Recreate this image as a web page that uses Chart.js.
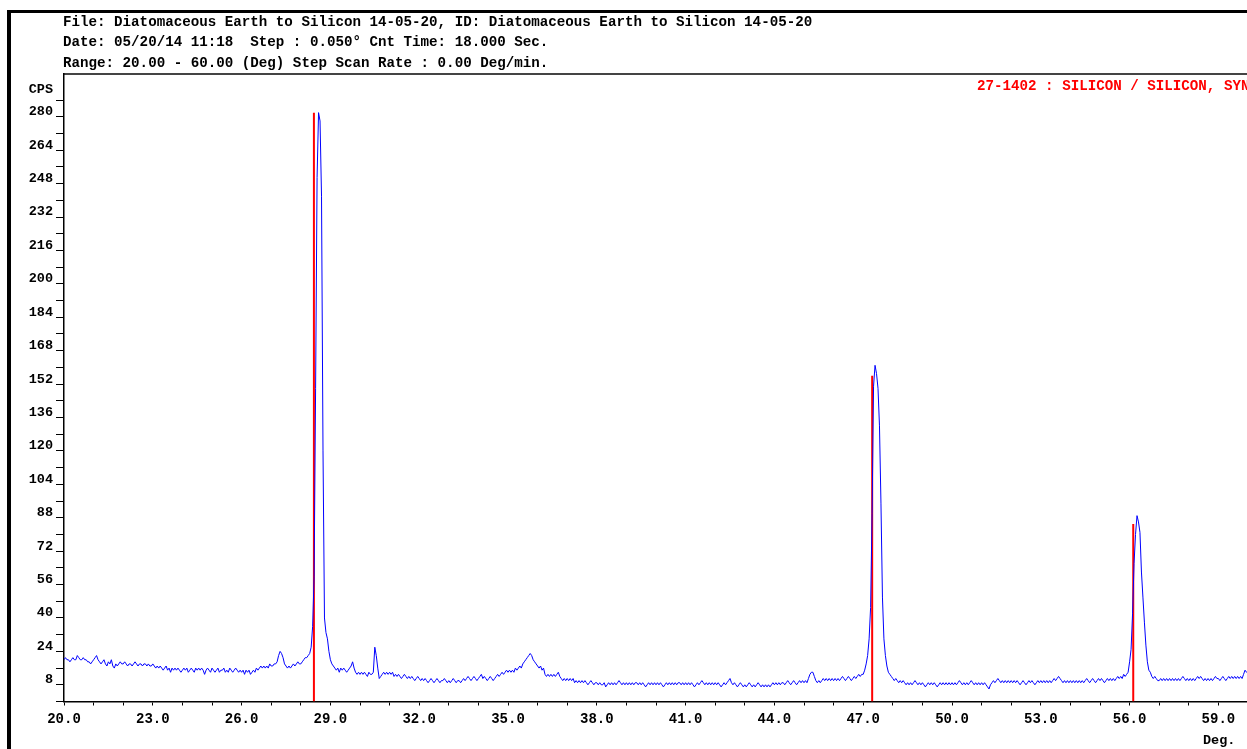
<!DOCTYPE html>
<html>
<head>
<meta charset="utf-8">
<script src="https://cdn.jsdelivr.net/npm/chart.js@4.4.0/dist/chart.umd.min.js"></script>
<style>
html, body { margin: 0; padding: 0; background: #fff; overflow: hidden; width: 1247px; height: 749px; }
#wrap { position: relative; width: 1247px; height: 749px; overflow: hidden; }
#grafico { position: absolute; left: 0; top: 0; }
.txt { position: absolute; font-family: "Liberation Mono", monospace; font-weight: bold; white-space: pre; color: #000; }
#cabecalho { left: 63px; top: 12px; font-size: 14.2px; line-height: 20.3px; }
#cps { left: 0; width: 53px; text-align: right; top: 82px; font-size: 13.5px; line-height: 16px; }
#deg { left: 1203px; top: 733px; font-size: 13.5px; line-height: 16px; }
#ref { left: 977px; top: 78px; font-size: 14.2px; line-height: 16px; color: #ff0000; }
.borda { position: absolute; background: #000; }
</style>
</head>
<body>
<div id="wrap">
  <canvas id="grafico" width="1254" height="749"></canvas>
  <div class="borda" style="left:7px;top:10px;width:4px;height:739px;"></div>
  <div class="borda" style="left:7px;top:10px;width:1243px;height:3px;"></div>
  <div id="cabecalho" class="txt">File: Diatomaceous Earth to Silicon 14-05-20, ID: Diatomaceous Earth to Silicon 14-05-20
Date: 05/20/14 11:18  Step : 0.050° Cnt Time: 18.000 Sec.
Range: 20.00 - 60.00 (Deg) Step Scan Rate : 0.00 Deg/min.</div>
  <div id="cps" class="txt">CPS</div>
  <div id="deg" class="txt">Deg.</div>
  <div id="ref" class="txt">27-1402 : SILICON / SILICON, SYN</div>
</div>
<script>
// ── Dados da varredura (passo 0.05°) ──
const passo = 0.05;

// 20.00 - 24.95
const cps20 = [
  20,21,20,20,19,20,21,20,20,22, 21,20,20,21,20,20,19,19,18,19,
  20,21,22,20,19,18,19,20,18,17, 19,18,20,17,16,18,17,18,19,18,
  18,19,18,17,18,18,17,18,19,18, 17,18,18,17,18,18,17,18,17,17,
  18,17,16,17,16,17,16,15,16,17, 15,16,14,16,15,16,15,16,15,14,
  15,16,15,16,14,15,16,15,14,16, 15,16,15,16,15,13,15,16,15,14
];
// 25.00 - 29.95
const cps25 = [
  16,15,14,15,16,14,15,15,16,14, 15,14,16,15,14,15,16,15,14,15,
  14,15,13,15,14,15,13,14,15,14, 16,15,16,17,16,17,16,17,16,18,
  17,17,18,18,19,22,24,23,21,18, 17,16,17,16,17,18,17,18,19,18,
  18,19,20,21,21,22,23,26,36,60, 150,251,282,278,242,120,40,33,30,24,
  20,18,17,16,15,16,14,16,15,16, 15,14,15,16,17,19,16,14,13,14
];
// 30.00 - 34.95
const cps30 = [
  13,14,13,14,13,12,14,13,13,14, 26,22,16,11,12,13,14,13,14,13,
  14,13,14,12,13,12,13,12,11,12, 13,12,11,12,11,12,11,10,11,12,
  11,10,11,10,11,10,9,10,11,10, 9,10,11,10,9,10,10,11,10,9,
  10,9,10,11,10,9,10,10,9,10, 11,10,11,12,11,10,11,12,11,10,
  11,12,13,11,12,11,10,11,12,11, 10,11,12,13,12,13,14,13,14,15
];
// 35.00 - 39.95
const cps35 = [
  14,15,14,15,14,16,15,16,17,16, 18,19,20,21,22,23,22,20,19,18,
  17,16,17,15,16,13,12,13,12,13, 12,13,12,13,14,12,11,10,11,10,
  11,10,11,10,11,9,10,9,10,9, 10,9,10,9,8,9,10,9,8,9,
  9,8,9,8,8,9,7,8,9,8, 9,8,9,8,9,10,9,8,9,8,
  9,8,9,8,9,8,9,9,8,9, 8,9,8,7,8,9,8,9,8,9
];
// 40.00 - 44.95
const cps40 = [
  8,9,8,9,8,7,8,9,8,9, 8,9,8,9,8,9,9,8,9,8,
  9,8,9,8,9,8,7,8,9,8, 9,10,9,8,9,8,9,8,9,8,
  9,8,9,8,7,8,9,8,9,10, 11,9,8,9,8,7,8,9,8,7,
  8,7,8,9,8,7,8,7,8,9, 8,7,8,7,8,7,8,7,8,9,
  8,9,8,9,8,9,9,8,9,10, 9,8,9,10,9,8,9,10,9,10
];
// 45.00 - 49.95
const cps45 = [
  9,10,9,11,13,14,14,12,10,9, 10,9,10,11,10,11,10,11,10,11,
  10,11,10,11,10,11,12,11,10,11, 12,11,10,11,12,11,12,13,12,13,
  13,15,18,22,30,45,90,151,161,157, 150,132,95,50,30,22,17,14,13,12,
  11,10,11,10,9,10,9,10,9,8, 9,8,9,8,9,10,9,8,9,8,
  9,8,7,8,9,8,9,8,9,8, 7,8,9,8,9,8,9,8,9,8
];
// 50.00 - 54.95
const cps50 = [
  9,8,9,8,9,10,9,8,9,8, 9,8,9,10,9,8,9,8,9,8,
  9,8,9,8,7,6,8,9,10,9, 10,11,10,9,10,9,10,9,10,9,
  10,9,10,9,10,9,8,9,10,9, 8,9,10,9,10,9,8,9,10,9,
  10,9,10,9,10,9,10,9,10,11, 10,11,12,11,10,9,10,9,10,9,
  10,9,10,9,10,9,10,9,10,9, 10,11,10,9,10,11,10,9,10,11
];
// 55.00 - 60.00
const cps55 = [
  10,11,10,9,10,11,10,11,10,11, 10,11,12,11,12,11,13,12,13,14,
  19,25,42,66,80,89,86,81,62,50, 38,27,19,15,14,12,11,12,11,10,
  10,11,10,11,10,11,10,11,10,11, 10,11,10,11,10,11,12,11,10,11,
  10,11,10,11,10,11,12,11,12,11, 10,11,10,11,10,11,10,11,12,11,
  11,10,11,12,11,10,11,12,11,12, 11,12,11,12,11,12,11,13,15,14,
  14
];

const blocos = [[20, cps20], [25, cps25], [30, cps30], [35, cps35], [40, cps40], [45, cps45], [50, cps50], [55, cps55]];

// ── Padrão de referência 27-1402 (Si) ──
const refPos = [28.443, 47.303, 56.123];
const refCps = [282, 156, 85];

// ── Rótulos dos eixos ──
const xRotulos = [20, 23, 26, 29, 32, 35, 38, 41, 44, 47, 50, 53, 56, 59];
const yRotulos = [8, 24, 40, 56, 72, 88, 104, 120, 136, 152, 168, 184, 200, 216, 232, 248, 264, 280];

const varredura = [];
blocos.forEach(([inicio, vals]) => {
    vals.forEach((v, i) => varredura.push({ x: +(inicio + i * passo).toFixed(2), y: v }));
});

const linhasRef = [];
refPos.forEach((p, i) => {
    linhasRef.push({ x: p, y: 0 }, { x: p, y: refCps[i] }, { x: p, y: null });
});

const fonteX = { family: '"Liberation Mono", monospace', weight: 'bold', size: 14 };
const fonteY = { family: '"Liberation Mono", monospace', weight: 'bold', size: 13.5 };

new Chart(document.getElementById("grafico"), {
    type: "line",
    data: {
        datasets: [
            { data: varredura, borderColor: "#0000ff", borderWidth: 1, pointRadius: 0, tension: 0, order: 0 },
            { data: linhasRef, borderColor: "#ff0000", borderWidth: 2, pointRadius: 0, spanGaps: false, order: 1 }
        ]
    },
    options: {
        responsive: false,
        animation: false,
        events: [],
        layout: { padding: 0 },
        plugins: { legend: { display: false }, tooltip: { enabled: false } },
        scales: {
            x: {
                type: "linear", position: "bottom", min: 20, max: 60,
                ticks: {
                    stepSize: 1, autoSkip: false, maxRotation: 0, padding: 6,
                    color: "#000", font: fonteX,
                    callback: v => xRotulos.includes(v) ? v.toFixed(1) : ""
                },
                grid: { drawOnChartArea: false, drawTicks: true, tickLength: 4, tickColor: "#000" },
                border: { display: true, color: "#000", width: 1.5 },
                afterFit: s => { s.height = 47.5; }
            },
            x2: {
                type: "linear", position: "top", min: 20, max: 60,
                ticks: { display: false },
                grid: { display: false },
                border: { display: true, color: "#444", width: 2 },
                afterFit: s => { s.height = 74; }
            },
            y: {
                min: 0, max: 300.5,
                ticks: {
                    stepSize: 8, autoSkip: false, padding: 3, labelOffset: -5,
                    color: "#000", font: fonteY,
                    callback: v => yRotulos.includes(v) ? String(v) : ""
                },
                grid: { drawOnChartArea: false, drawTicks: true, tickLength: 8, tickColor: "#000" },
                border: { display: true, color: "#000", width: 1.5 },
                afterBuildTicks: s => { s.ticks = s.ticks.filter(t => t.value % 8 === 0); },
                afterFit: s => { s.width = 64; }
            }
        }
    }
});
</script>
</body>
</html>
